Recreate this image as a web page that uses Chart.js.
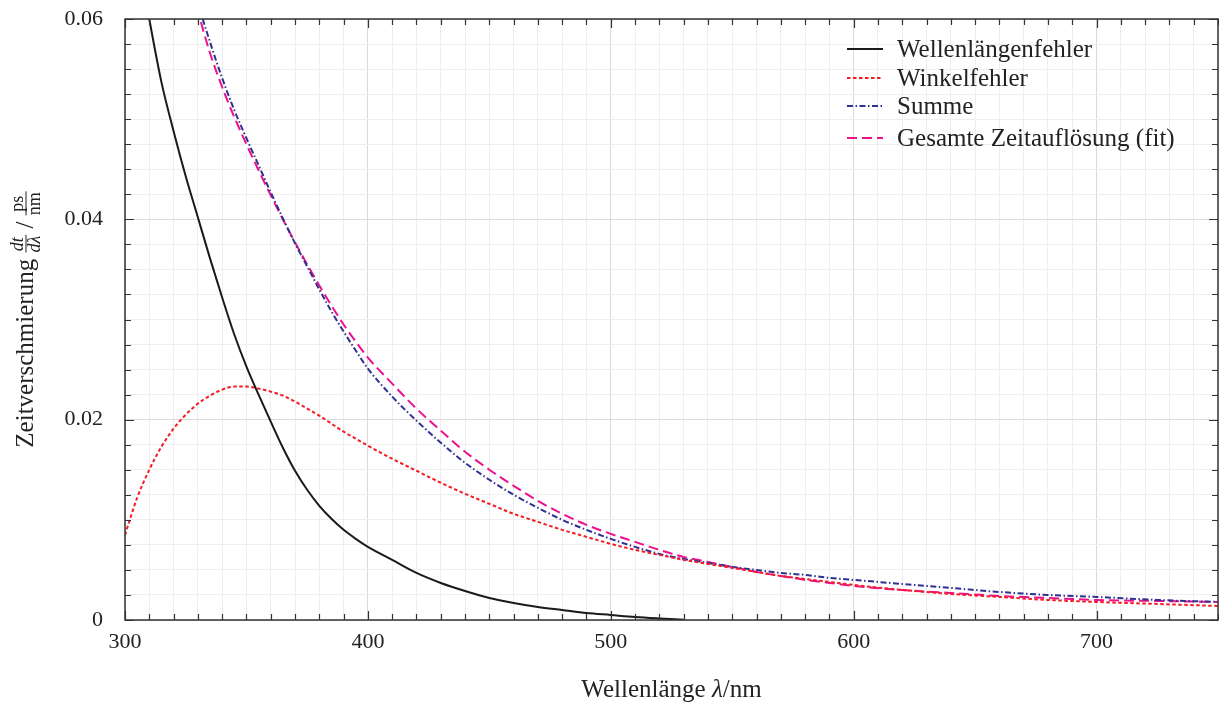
<!DOCTYPE html>
<html lang="de">
<head>
<meta charset="utf-8">
<title>Zeitverschmierung</title>
<script src="https://cdn.jsdelivr.net/npm/chart.js@4.4.1/dist/chart.umd.min.js"></script>
<style>
  html, body { margin: 0; padding: 0; background: #fff; }
  #wrap { width: 1219px; height: 704px; }
</style>
</head>
<body>
<div id="wrap"><canvas id="zeitChart" width="1219" height="704"></canvas></div>
<script>
// Wellenlänge in nm (gemeinsames Raster fuer alle Kurven)
const wavelengths = [300, 305, 310, 315, 320, 325, 330, 335, 340, 345, 350, 355, 360, 365, 370, 375, 380, 385, 390, 395, 400,
  410, 420, 430, 440, 450, 460, 470, 480, 490, 500, 510, 520, 530, 540, 550, 560, 570, 580, 590, 600,
  620, 640, 660, 680, 700, 725, 750];

// Zeitverschmierung in ps/nm
const wavelengthError = [0.075, 0.067, 0.060, 0.0537, 0.0488, 0.0443, 0.0402, 0.0361, 0.0322, 0.0285, 0.0253, 0.0225, 0.0198, 0.0172, 0.0149, 0.0130, 0.0114, 0.0101, 0.0090, 0.0081, 0.0073,
  0.0060, 0.0047, 0.0037, 0.0029, 0.0022, 0.0017, 0.0013, 0.0010, 0.0007, 0.0005, 0.0003, 0.00015, 0.00002, null, null, null, null, null, null, null,
  null, null, null, null, null, null, null];

const angleError = [0.0085, 0.0122, 0.0150, 0.0173, 0.0191, 0.0205, 0.0216, 0.0224, 0.0230, 0.0233, 0.0233, 0.0231, 0.0228, 0.0224, 0.0218, 0.0211, 0.0204, 0.0196, 0.0188, 0.0181, 0.0174,
  0.0161, 0.0149, 0.0137, 0.0126, 0.0116, 0.0106, 0.0098, 0.0090, 0.0083, 0.0076, 0.0070, 0.0065, 0.0060, 0.0056, 0.0052, 0.0048, 0.0044, 0.0041, 0.0038, 0.0035,
  0.0030, 0.0026, 0.0023, 0.0020, 0.0018, 0.0016, 0.0014];

const totalSum = [null, null, null, null, null, 0.0660, 0.0616, 0.0577, 0.0541, 0.0509, 0.0481, 0.0454, 0.0427, 0.0401, 0.0376, 0.0353, 0.0330, 0.0308, 0.0288, 0.0269, 0.0251,
  0.0223, 0.0199, 0.0177, 0.0157, 0.0140, 0.0125, 0.0112, 0.0100, 0.0090, 0.0081, 0.0073, 0.0066, 0.0061, 0.0057, 0.0053, 0.0050, 0.0047, 0.0045, 0.0042, 0.0040,
  0.0036, 0.0032, 0.0028, 0.0025, 0.0023, 0.0020, 0.0018];

const fitResolution = [null, null, null, null, null, 0.0655, 0.0608, 0.0566, 0.0532, 0.0502, 0.0475, 0.0449, 0.0424, 0.0400, 0.0377, 0.0355, 0.0334, 0.0314, 0.0295, 0.0278, 0.0262,
  0.0236, 0.0211, 0.0189, 0.0168, 0.0150, 0.0134, 0.0119, 0.0106, 0.0095, 0.0086, 0.0078, 0.0070, 0.0063, 0.0058, 0.0053, 0.0048, 0.0044, 0.0040, 0.0037, 0.0034,
  0.0030, 0.0027, 0.0024, 0.0022, 0.0020, 0.0019, 0.0018];

const seriesLabels = ['Wellenlängenfehler', 'Winkelfehler', 'Summe', 'Gesamte Zeitauflösung (fit)'];
const xTickLabels = [300, 400, 500, 600, 700];
const yTickLabels = [0, 0.02, 0.04, 0.06];

const SERIF = '"Liberation Serif", "DejaVu Serif", serif';

const toPoints = arr => wavelengths.map((w, i) => ({ x: w, y: arr[i] }));
const isLabelled = (v, list) => list.some(t => Math.abs(t - v) < 1e-9);

// Rahmen mit nach innen zeigenden Ticks auf allen vier Seiten
const frameTicks = {
  id: 'frameTicks',
  afterDatasetsDraw(chart) {
    const { ctx, chartArea: a, scales: { x, y } } = chart;
    ctx.save();
    ctx.strokeStyle = '#333';
    ctx.lineWidth = 1.2;
    ctx.beginPath();
    x.ticks.forEach(t => {
      const px = Math.round(x.getPixelForValue(t.value)) + 0.5;
      const len = isLabelled(t.value, xTickLabels) ? 9 : 6;
      ctx.moveTo(px, a.bottom); ctx.lineTo(px, a.bottom - len);
      ctx.moveTo(px, a.top); ctx.lineTo(px, a.top + len);
    });
    y.ticks.forEach(t => {
      const py = Math.round(y.getPixelForValue(t.value)) + 0.5;
      const len = isLabelled(t.value, yTickLabels) ? 9 : 6;
      ctx.moveTo(a.left, py); ctx.lineTo(a.left + len, py);
      ctx.moveTo(a.right, py); ctx.lineTo(a.right - len, py);
    });
    ctx.stroke();
    ctx.lineWidth = 1.5;
    ctx.strokeRect(a.left, a.top, a.width, a.height);
    ctx.restore();
  }
};

// Legende oben rechts innerhalb des Plotbereichs
const insetLegend = {
  id: 'insetLegend',
  afterDraw(chart) {
    const { ctx, chartArea: a } = chart;
    const x0 = a.right - 371;
    const rows = [49, 78, 106, 138];
    ctx.save();
    chart.data.datasets.forEach((ds, i) => {
      const yy = rows[i];
      ctx.strokeStyle = ds.borderColor;
      ctx.lineWidth = ds.borderWidth;
      ctx.setLineDash(ds.borderDash || []);
      ctx.beginPath();
      ctx.moveTo(x0, yy);
      ctx.lineTo(x0 + 36, yy);
      ctx.stroke();
      ctx.setLineDash([]);
      ctx.fillStyle = '#222';
      ctx.font = `25px ${SERIF}`;
      ctx.textBaseline = 'alphabetic';
      ctx.fillText(ds.label, x0 + 50, yy + 8);
    });
    ctx.restore();
  }
};

// Achsentitel, y-Titel mit Bruechen dt/dλ und ps/nm
const axisTitles = {
  id: 'axisTitles',
  afterDraw(chart) {
    const { ctx, chartArea: a } = chart;
    ctx.save();
    ctx.fillStyle = '#222';
    ctx.textBaseline = 'alphabetic';

    // x-Titel
    const big = `25px ${SERIF}`;
    const bigIt = `italic 25px ${SERIF}`;
    const p1 = 'Wellenlänge ', p2 = 'λ', p3 = '/nm';
    ctx.font = big;
    const w1 = ctx.measureText(p1).width, w3 = ctx.measureText(p3).width;
    ctx.font = bigIt;
    const w2 = ctx.measureText(p2).width;
    let xx = (a.left + a.right) / 2 - (w1 + w2 + w3) / 2;
    const yb = 697;
    ctx.font = big; ctx.fillText(p1, xx, yb); xx += w1;
    ctx.font = bigIt; ctx.fillText(p2, xx, yb); xx += w2;
    ctx.font = big; ctx.fillText(p3, xx, yb);

    // y-Titel, gedreht
    const small = `18px ${SERIF}`;
    const smallIt = `italic 18px ${SERIF}`;
    ctx.font = big;
    const main = 'Zeitverschmierung ';
    const slash = ' / ';
    const wm = ctx.measureText(main).width;
    const ws = ctx.measureText(slash).width;
    ctx.font = smallIt;
    const wf1 = Math.max(ctx.measureText('dt').width, ctx.measureText('dλ').width);
    ctx.font = small;
    const wf2 = Math.max(ctx.measureText('ps').width, ctx.measureText('nm').width);
    const total = wm + wf1 + ws + wf2 + 2;

    ctx.translate(33, (a.top + a.bottom) / 2);
    ctx.rotate(-Math.PI / 2);
    let lx = -total / 2;
    ctx.font = big;
    ctx.fillText(main, lx, 0); lx += wm;

    const bar = -7;
    const frac = (num, den, w, font) => {
      ctx.font = font;
      ctx.textAlign = 'center';
      ctx.fillText(num, lx + w / 2, bar - 3);
      ctx.fillText(den, lx + w / 2, bar + 14);
      ctx.textAlign = 'left';
      ctx.fillRect(lx, bar - 0.5, w + 1, 1);
    };
    frac('dt', 'dλ', wf1, smallIt); lx += wf1 + 1;
    ctx.font = big;
    ctx.fillText(slash, lx, 0); lx += ws;
    frac('ps', 'nm', wf2, small);
    ctx.restore();
  }
};

const ctx = document.getElementById('zeitChart').getContext('2d');

new Chart(ctx, {
  type: 'line',
  data: {
    datasets: [
      {
        label: seriesLabels[0],
        data: toPoints(wavelengthError),
        borderColor: '#1a1a1a',
        borderWidth: 2
      },
      {
        label: seriesLabels[1],
        data: toPoints(angleError),
        borderColor: '#f41c24',
        borderWidth: 2,
        borderDash: [3.5, 2.5]
      },
      {
        label: seriesLabels[2],
        data: toPoints(totalSum),
        borderColor: '#2e3192',
        borderWidth: 2,
        borderDash: [6, 2.5, 1.5, 2.5]
      },
      {
        label: seriesLabels[3],
        data: toPoints(fitResolution),
        borderColor: '#ec118c',
        borderWidth: 2,
        borderDash: [10, 5]
      }
    ]
  },
  options: {
    responsive: false,
    animation: false,
    devicePixelRatio: 1,
    layout: { padding: { top: 19, right: 1, left: 0, bottom: 0 } },
    elements: {
      point: { radius: 0 },
      line: { cubicInterpolationMode: 'monotone', fill: false }
    },
    scales: {
      x: {
        type: 'linear',
        min: 300,
        max: 750,
        afterFit: s => { s.height = 84; s.paddingLeft = 0; s.paddingRight = 0; },
        border: { display: false },
        grid: {
          drawTicks: false,
          lineWidth: 1,
          color: c => isLabelled(c.tick.value, xTickLabels) ? '#dadada' : '#eeeeee'
        },
        ticks: {
          stepSize: 10,
          autoSkip: false,
          maxRotation: 0,
          padding: 9,
          color: '#222',
          font: { family: SERIF, size: 22 },
          callback: v => isLabelled(v, xTickLabels) ? String(v) : ''
        }
      },
      y: {
        min: 0,
        max: 0.06,
        afterFit: s => { s.width = 125; s.paddingTop = 0; s.paddingBottom = 0; },
        border: { display: false },
        grid: {
          drawTicks: false,
          lineWidth: 1,
          color: c => isLabelled(c.tick.value, yTickLabels) ? '#dadada' : '#eeeeee'
        },
        ticks: {
          stepSize: 0.0025,
          autoSkip: false,
          padding: 22,
          color: '#222',
          font: { family: SERIF, size: 22 },
          callback: v => isLabelled(v, yTickLabels) ? (v === 0 ? '0' : v.toFixed(2)) : ''
        }
      }
    },
    plugins: {
      legend: { display: false },
      title: { display: false },
      tooltip: { enabled: false }
    }
  },
  plugins: [frameTicks, insetLegend, axisTitles]
});
</script>
</body>
</html>
